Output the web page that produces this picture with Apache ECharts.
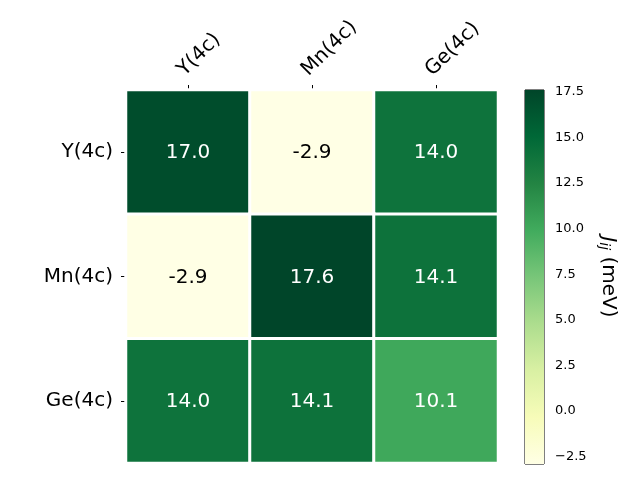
<!DOCTYPE html>
<html>
<head>
<meta charset="utf-8">
<script src="https://cdn.jsdelivr.net/npm/echarts@6/dist/echarts.min.js"></script>
<style>html,body{margin:0;padding:0;background:#fff}#c{width:640px;height:480px}</style>
</head>
<body>
<div id="c"></div>
<script>
var sites = ['Y(4c)', 'Mn(4c)', 'Ge(4c)'];
var jValues = [
  [17.0, -2.9, 14.0],
  [-2.9, 17.6, 14.1],
  [14.0, 14.1, 10.1]
];
var vMin = -2.9;
var vMax = 17.6;
var cbarTicks = [-2.5, 0, 2.5, 5, 7.5, 10, 12.5, 15, 17.5];
var ylgn = ['#ffffe5', '#f7fcb9', '#d9f0a3', '#addd8e', '#78c679', '#41ab5d', '#238443', '#006837', '#004529'];

var FONT = 'DejaVu Sans';
var heatData = [];
for (var r = 0; r < sites.length; r++) {
  for (var c = 0; c < sites.length; c++) {
    var v = jValues[r][c];
    heatData.push({
      value: [c, r, v],
      label: { color: (v - vMin) / (vMax - vMin) > 0.4 ? '#ffffff' : '#000000' }
    });
  }
}

var gradStops = ylgn.map(function (col, i) {
  return { offset: 1 - i / (ylgn.length - 1), color: col };
});

var chart = echarts.init(document.getElementById('c'), null, { renderer: 'canvas' });
chart.setOption({
  animation: false,
  textStyle: { fontFamily: FONT },
  grid: [
    { left: 126, top: 90, width: 372, height: 373 },
    { left: 525, top: 90, width: 19, height: 374, show: true, borderColor: '#000', borderWidth: 1, backgroundColor: 'transparent' }
  ],
  xAxis: [
    {
      gridIndex: 0, type: 'category', data: sites, position: 'top',
      axisLine: { show: false },
      axisTick: { show: true, alignWithLabel: true, length: 5, lineStyle: { color: '#000', width: 1 } },
      axisLabel: { rotate: -45, align: 'left', verticalAlign: 'bottom', fontSize: 20, color: '#000', fontFamily: FONT, margin: 10 },
      splitLine: { show: false }
    },
    {
      gridIndex: 1, type: 'value', min: 0, max: 1, show: false
    }
  ],
  yAxis: [
    {
      gridIndex: 0, type: 'category', data: sites, inverse: true,
      axisLine: { show: false },
      axisTick: { show: true, alignWithLabel: true, length: 5, lineStyle: { color: '#000', width: 1 } },
      axisLabel: { fontSize: 20, color: '#000', fontFamily: FONT, margin: 13, padding: [4, 0, 0, 0] },
      splitLine: { show: false }
    },
    {
      gridIndex: 0, type: 'category', data: sites, inverse: true, position: 'right',
      axisLine: { show: true, lineStyle: { color: '#1e9b4c', width: 1.5 } },
      axisTick: { show: false }, axisLabel: { show: false }
    },
    {
      gridIndex: 1, type: 'value', min: vMin, max: vMax, position: 'right',
      axisLine: { show: false },
      splitLine: { show: false },
      axisTick: { show: true, inside: false, length: 4, lineStyle: { color: '#000', width: 1 }, customValues: cbarTicks },
      axisLabel: {
        fontSize: 13, color: '#000', fontFamily: FONT, margin: 11,
        customValues: cbarTicks,
        formatter: function (v) { return v.toFixed(1).replace('-', '\u2212'); }
      },
      name: '{j|J}{s|ij}{t| (meV)}',
      nameLocation: 'middle',
      nameRotate: -90,
      nameGap: 53,
      nameTextStyle: {
        rich: {
          j: { fontSize: 20, fontStyle: 'italic', fontFamily: FONT, color: '#000' },
          s: { fontSize: 14, fontStyle: 'italic', fontFamily: FONT, color: '#000', padding: [8, 0, 0, 0] },
          t: { fontSize: 20, fontFamily: FONT, color: '#000' }
        }
      }
    }
  ],
  visualMap: {
    show: false, type: 'continuous', min: vMin, max: vMax, seriesIndex: 0,
    inRange: { color: ylgn }
  },
  series: [
    {
      type: 'heatmap', xAxisIndex: 0, yAxisIndex: 0, data: heatData,
      itemStyle: { borderColor: '#ffffff', borderWidth: 3 },
      label: {
        show: true, fontSize: 20, fontFamily: FONT, offset: [0, 1],
        formatter: function (p) { return p.value[2].toFixed(1); }
      },
      emphasis: { disabled: true }
    },
    {
      type: 'custom', xAxisIndex: 1, yAxisIndex: 2,
      data: [[0, vMin, vMax]],
      renderItem: function (params, api) {
        var p1 = api.coord([0, api.value(2)]);
        var p2 = api.coord([1, api.value(1)]);
        return {
          type: 'rect',
          shape: { x: p1[0], y: p1[1], width: p2[0] - p1[0], height: p2[1] - p1[1] },
          style: { fill: new echarts.graphic.LinearGradient(0, 0, 0, 1, gradStops) }
        };
      },
      silent: true
    }
  ]
});
</script>
</body>
</html>
